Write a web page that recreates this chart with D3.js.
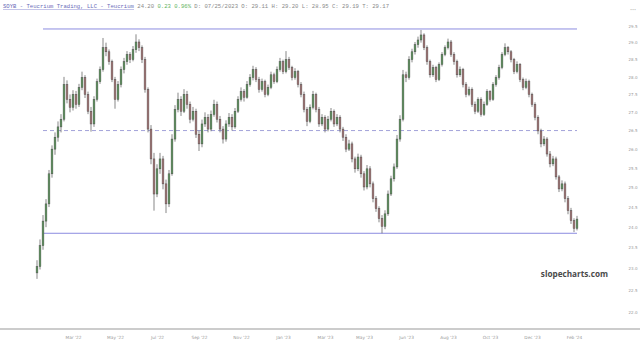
<!DOCTYPE html>
<html>
<head>
<meta charset="utf-8">
<script src="https://d3js.org/d3.v7.min.js"></script>
<style>
  html, body { margin: 0; padding: 0; background: #fff; }
  svg { display: block; }
  .candle-up { fill: #5f9e5f; }
  .candle-down { fill: #b07a7a; }
</style>
</head>
<body>
<svg id="chart" width="640" height="343"></svg>
<script>
// --- data (SOYB daily bars, Jan '22 - Feb '24) ---
const opens = [22.90,
  23.05, 23.55, 24.15, 24.58, 25.35, 26.00, 26.32, 26.60, 26.81, 27.78,
  27.36, 27.14, 27.50, 27.22, 27.70, 27.98, 27.50, 27.03, 26.68, 27.36,
  27.86, 28.21, 28.85, 28.73, 28.44, 27.92, 27.36, 27.78, 28.21, 28.44,
  28.65, 28.50, 28.79, 29.02, 28.85, 28.50, 27.64, 26.54, 25.74, 24.83,
  25.48, 25.74, 25.09, 24.58, 25.35, 26.27, 27.08, 27.36, 27.03, 27.50,
  27.22, 26.81, 27.03, 26.40, 26.14, 26.68, 26.86, 26.54, 26.94, 27.22,
  26.81, 26.54, 26.27, 26.68, 26.86, 26.60, 27.03, 27.36, 27.58, 27.42,
  27.78, 27.98, 28.21, 27.92, 27.64, 27.86, 27.50, 27.70, 28.06, 27.86,
  28.21, 28.44, 28.15, 28.50, 28.27, 27.98, 28.15, 27.78, 27.50, 27.08,
  26.75, 27.14, 27.50, 27.08, 26.68, 26.86, 26.54, 26.81, 27.03, 26.68,
  26.86, 26.54, 26.32, 26.00, 26.14, 25.74, 25.48, 25.79, 25.35, 25.01,
  25.48, 25.09, 24.71, 24.46, 24.21, 24.02, 24.33, 24.83, 25.22, 25.53,
  26.27, 26.81, 28.06, 27.98, 28.50, 28.73, 28.94, 29.08, 29.23, 28.85,
  28.44, 28.06, 28.27, 27.92, 28.36, 28.65, 28.85, 29.02, 28.65, 28.44,
  28.06, 28.21, 27.78, 27.50, 27.64, 27.22, 27.03, 27.36, 26.94, 27.22,
  27.58, 27.36, 27.78, 27.98, 28.27, 28.65, 28.85, 28.73, 28.50, 28.15,
  28.36, 27.92, 27.70, 27.86, 27.50, 27.22, 26.86, 26.49, 26.14, 26.27,
  25.87, 25.61, 25.74, 25.27, 24.96, 25.09, 24.71, 24.41, 24.16, 23.97];

const highs = [
  23.20, 23.70, 24.30, 24.70, 25.45, 26.10, 26.45, 26.75, 26.95, 28.00,
  27.90, 27.50, 27.62, 27.60, 27.80, 28.15, 28.05, 27.58, 27.15, 27.45,
  27.95, 28.30, 29.14, 29.00, 28.80, 28.50, 28.00, 27.88, 28.30, 28.55,
  28.75, 28.72, 28.90, 29.25, 29.10, 28.92, 28.58, 27.70, 26.65, 25.90,
  25.60, 25.90, 25.82, 25.20, 25.45, 26.40, 27.20, 27.55, 27.45, 27.65,
  27.60, 27.30, 27.15, 27.10, 26.50, 26.80, 27.00, 26.95, 27.05, 27.35,
  27.30, 26.90, 26.62, 26.78, 26.98, 26.95, 27.12, 27.45, 27.70, 27.65,
  27.88, 28.08, 28.32, 28.28, 28.00, 27.95, 27.92, 27.78, 28.15, 28.12,
  28.30, 28.55, 28.50, 28.75, 28.58, 28.32, 28.25, 28.20, 27.85, 27.58,
  27.15, 27.22, 27.60, 27.55, 27.15, 26.95, 26.92, 26.90, 27.12, 27.08,
  26.95, 26.92, 26.60, 26.40, 26.25, 26.20, 25.80, 25.88, 25.85, 25.42,
  25.58, 25.55, 25.15, 24.78, 24.52, 24.30, 24.42, 24.92, 25.30, 25.62,
  26.38, 26.92, 28.20, 28.15, 28.60, 28.82, 29.02, 29.18, 29.38, 29.28,
  28.92, 28.50, 28.35, 28.32, 28.42, 28.72, 28.92, 29.12, 29.08, 28.72,
  28.50, 28.30, 28.26, 27.85, 27.72, 27.70, 27.30, 27.42, 27.42, 27.30,
  27.65, 27.62, 27.85, 28.05, 28.35, 28.72, 28.98, 28.90, 28.78, 28.55,
  28.45, 28.40, 27.98, 27.95, 27.92, 27.55, 27.28, 26.92, 26.55, 26.35,
  26.32, 25.95, 25.82, 25.80, 25.32, 25.18, 25.15, 24.78, 24.48, 24.22,
  24.28];

const lows = [
  22.76, 22.98, 23.45, 24.00, 24.50, 25.25, 25.85, 26.20, 26.45, 26.75,
  27.25, 27.00, 27.05, 27.10, 27.15, 27.62, 27.40, 26.95, 26.47, 26.60,
  27.30, 27.80, 28.15, 28.60, 28.35, 27.85, 27.10, 27.30, 27.70, 28.10,
  28.35, 28.40, 28.45, 28.70, 28.75, 28.40, 27.55, 26.45, 25.60, 24.41,
  24.75, 25.35, 24.95, 24.35, 24.50, 25.30, 26.20, 27.00, 26.90, 26.98,
  27.10, 26.70, 26.75, 26.30, 25.95, 26.05, 26.60, 26.45, 26.48, 26.88,
  26.72, 26.45, 26.15, 26.20, 26.60, 26.50, 26.55, 26.98, 27.30, 27.30,
  27.38, 27.72, 27.90, 27.85, 27.55, 27.58, 27.42, 27.45, 27.65, 27.80,
  27.82, 28.15, 28.08, 28.10, 28.20, 27.90, 27.92, 27.70, 27.42, 27.00,
  26.62, 26.70, 27.08, 27.00, 26.60, 26.62, 26.45, 26.48, 26.75, 26.60,
  26.62, 26.45, 26.22, 25.92, 25.95, 25.65, 25.38, 25.42, 25.25, 24.92,
  24.95, 25.00, 24.62, 24.38, 24.12, 23.85, 23.95, 24.28, 24.78, 25.15,
  25.48, 26.20, 26.75, 27.85, 27.92, 28.42, 28.65, 28.85, 29.00, 28.78,
  28.35, 27.98, 28.00, 27.85, 27.88, 28.30, 28.60, 28.80, 28.58, 28.35,
  27.98, 28.00, 27.70, 27.42, 27.45, 27.15, 26.95, 26.98, 26.88, 26.90,
  27.18, 27.30, 27.32, 27.72, 27.92, 28.22, 28.60, 28.65, 28.42, 28.08,
  28.10, 27.85, 27.62, 27.65, 27.42, 27.15, 26.78, 26.40, 26.05, 26.08,
  25.80, 25.52, 25.55, 25.20, 24.88, 24.90, 24.62, 24.32, 24.08, 23.88,
  23.92];

const closes = [
  23.05, 23.55, 24.15, 24.58, 25.35, 26.00, 26.32, 26.60, 26.81, 27.78,
  27.36, 27.14, 27.50, 27.22, 27.70, 27.98, 27.50, 27.03, 26.68, 27.36,
  27.86, 28.21, 28.85, 28.73, 28.44, 27.92, 27.36, 27.78, 28.21, 28.44,
  28.65, 28.50, 28.79, 29.02, 28.85, 28.50, 27.64, 26.54, 25.74, 24.83,
  25.48, 25.74, 25.09, 24.58, 25.35, 26.27, 27.08, 27.36, 27.03, 27.50,
  27.22, 26.81, 27.03, 26.40, 26.14, 26.68, 26.86, 26.54, 26.94, 27.22,
  26.81, 26.54, 26.27, 26.68, 26.86, 26.60, 27.03, 27.36, 27.58, 27.42,
  27.78, 27.98, 28.21, 27.92, 27.64, 27.86, 27.50, 27.70, 28.06, 27.86,
  28.21, 28.44, 28.15, 28.50, 28.27, 27.98, 28.15, 27.78, 27.50, 27.08,
  26.75, 27.14, 27.50, 27.08, 26.68, 26.86, 26.54, 26.81, 27.03, 26.68,
  26.86, 26.54, 26.32, 26.00, 26.14, 25.74, 25.48, 25.79, 25.35, 25.01,
  25.48, 25.09, 24.71, 24.46, 24.21, 24.02, 24.33, 24.83, 25.22, 25.53,
  26.27, 26.81, 28.06, 27.98, 28.50, 28.73, 28.94, 29.08, 29.23, 28.85,
  28.44, 28.06, 28.27, 27.92, 28.36, 28.65, 28.85, 29.02, 28.65, 28.44,
  28.06, 28.21, 27.78, 27.50, 27.64, 27.22, 27.03, 27.36, 26.94, 27.22,
  27.58, 27.36, 27.78, 27.98, 28.27, 28.65, 28.85, 28.73, 28.50, 28.15,
  28.36, 27.92, 27.70, 27.86, 27.50, 27.22, 26.86, 26.49, 26.14, 26.27,
  25.87, 25.61, 25.74, 25.27, 24.96, 25.09, 24.71, 24.41, 24.16, 23.97,
  24.20];

// x labels sit on bar indices (every ~2 months of trading days)
const tickBars = [12, 26, 40, 54, 68, 82, 96, 109, 123, 137, 151, 165, 179];
const tickLabels = ["Mar '22", "May '22", "Jul '22", "Sep '22", "Nov '22", "Jan '23",
  "Mar '23", "May '23", "Jun '23", "Aug '23", "Oct '23", "Dec '23", "Feb '24"];
const priceTicks = [22.0, 22.5, 23.0, 23.5, 24.0, 24.5, 25.0, 25.5, 26.0, 26.5, 27.0, 27.5, 28.0, 28.5, 29.0, 29.5];

// drawn trend / channel lines
const solidLevels = [29.41, 23.85];
const dashedLevels = [26.5];

// --- chart ---
const svg = d3.select("#chart");
const width = 640, height = 343;

const x = d3.scaleLinear().domain([0, closes.length - 1]).range([37, 577]);
const y = d3.scaleLog().domain([22, 29.5]).range([312, 26]);

// header line
const header = svg.append("text")
  .attr("x", 3).attr("y", 8)
  .attr("font-family", "Liberation Mono, monospace")
  .attr("font-size", 5.6)
  .attr("fill", "#8a8a8a");
header.append("tspan").attr("fill", "#6a6ab8").text("SOYB - Teucrium Trading, LLC - Teucrium");
header.append("tspan").text(" 24.20 ");
header.append("tspan").attr("fill", "#5fb35f").text("0.23 0.96%");
header.append("tspan").text(" D: 07/25/2023 O: 29.11 H: 29.20 L: 28.95 C: 29.19 T: 29.17");
svg.append("line")
  .attr("x1", 3).attr("x2", 134).attr("y1", 9.5).attr("y2", 9.5)
  .attr("stroke", "#8a8ad0").attr("stroke-width", 0.5);

svg.append("text")
  .attr("x", 633).attr("y", 11)
  .attr("text-anchor", "middle")
  .attr("font-family", "DejaVu Sans, sans-serif")
  .attr("font-size", 3.5)
  .attr("fill", "#aaa")
  .text("•••");

// levels
svg.selectAll("line.level")
  .data(solidLevels)
  .enter().append("line")
  .attr("class", "level")
  .attr("x1", 43).attr("x2", 577)
  .attr("y1", d => y(d)).attr("y2", d => y(d))
  .attr("stroke", "#8c8ce0").attr("stroke-width", 1);

svg.selectAll("line.dlevel")
  .data(dashedLevels)
  .enter().append("line")
  .attr("class", "dlevel")
  .attr("x1", 43).attr("x2", 577)
  .attr("y1", d => y(d)).attr("y2", d => y(d))
  .attr("stroke", "#8c8ccf").attr("stroke-width", 0.8)
  .attr("stroke-dasharray", "4,3");

// candles
const idx = d3.range(closes.length);
const g = svg.append("g");

g.selectAll("line.wick")
  .data(idx)
  .enter().append("line")
  .attr("class", "wick")
  .attr("x1", i => x(i)).attr("x2", i => x(i))
  .attr("y1", i => y(highs[i])).attr("y2", i => y(lows[i]))
  .attr("stroke", "#555").attr("stroke-width", 0.7);

g.selectAll("rect")
  .data(idx)
  .enter().append("rect")
  .attr("class", i => closes[i] >= opens[i] ? "candle-up" : "candle-down")
  .attr("x", i => x(i) - 0.9)
  .attr("width", 1.8)
  .attr("y", i => y(Math.max(opens[i], closes[i])))
  .attr("height", i => Math.max(0.8, Math.abs(y(opens[i]) - y(closes[i]))))
  .attr("stroke", "#4a4a4a").attr("stroke-width", 0.45);

// right price axis
const yAxis = d3.axisRight(y)
  .tickValues(priceTicks)
  .tickFormat(d3.format(".1f"))
  .tickSize(0);

svg.append("g")
  .attr("transform", "translate(628,0)")
  .call(yAxis)
  .call(a => a.select(".domain").remove())
  .selectAll("text")
  .attr("x", 5)
  .attr("text-anchor", "middle")
  .attr("font-family", "DejaVu Sans, sans-serif")
  .attr("font-size", 4)
  .attr("fill", "#999");

// bottom axis
svg.append("line")
  .attr("x1", 0).attr("x2", width).attr("y1", 329).attr("y2", 329)
  .attr("stroke", "#999").attr("stroke-width", 1);

const xAxis = d3.axisBottom(x)
  .tickValues(tickBars)
  .tickFormat((d, i) => tickLabels[i])
  .tickSize(0);

svg.append("g")
  .attr("transform", "translate(0,333)")
  .call(xAxis)
  .call(a => a.select(".domain").remove())
  .selectAll("text")
  .attr("dy", "0.6em")
  .attr("font-family", "DejaVu Sans, sans-serif")
  .attr("font-size", 4.3)
  .attr("fill", "#999");

// watermark
svg.append("text")
  .attr("x", 608).attr("y", 277)
  .attr("text-anchor", "end")
  .attr("font-family", "Open Sans, sans-serif")
  .attr("font-weight", "bold")
  .attr("font-size", 8.2)
  .attr("fill", "#4a4a4a")
  .text("slopecharts.com");
</script>
</body>
</html>
